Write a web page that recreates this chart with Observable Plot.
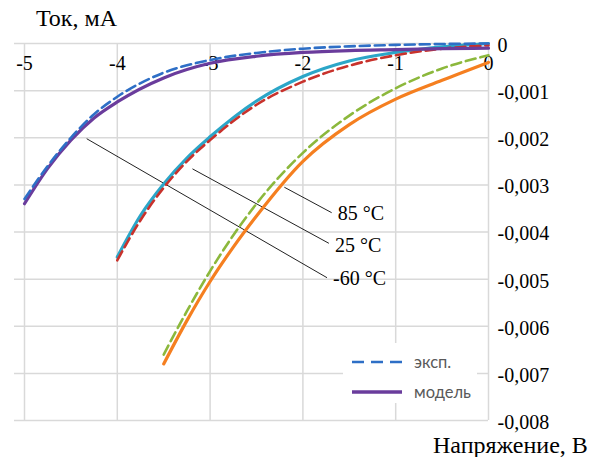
<!DOCTYPE html>
<html>
<head>
<meta charset="utf-8">
<script src="https://cdn.jsdelivr.net/npm/d3@7"></script>
<script src="https://cdn.jsdelivr.net/npm/@observablehq/plot@0.6"></script>
<style>
  html, body { margin: 0; padding: 0; background: #fff; }
  #wrap { position: relative; width: 598px; height: 457px; overflow: hidden; }
  #wrap svg { position: absolute; left: 0; top: 0; }
  .serif { font-family: "Liberation Serif", "Times New Roman", serif; color: #000; line-height: normal; }
  #ytitle { position: absolute; left: 36px; top: 5px; font-size: 24px; white-space: nowrap; }
  #xtitle { position: absolute; left: 433px; top: 432px; font-size: 24px; white-space: nowrap; }
  #legend { position: absolute; left: 343px; top: 343px; width: 134px; height: 60px; background: #fff;
            font-family: Lato, "Open Sans", sans-serif; font-size: 16.5px; color: #595959; }
  #legend .row { position: absolute; left: 8px; height: 20px; display: flex; align-items: center; }
  #legend svg { position: static; margin-right: 11px; }
</style>
</head>
<body>
<div id="wrap">
  <div id="ytitle" class="serif">Ток, мА</div>
  <div id="xtitle" class="serif">Напряжение, В</div>
  <div id="legend"></div>
</div>
<script>
// Axis ticks
const xTicks = [-5, -4, -3, -2, -1, 0];
const xTickLabels = ["-5", "-4", "-3", "-2", "-1", "0"];
const yTicks = [0, -0.001, -0.002, -0.003, -0.004, -0.005, -0.006, -0.007, -0.008];
const yTickLabels = ["0", "-0,001", "-0,002", "-0,003", "-0,004", "-0,005", "-0,006", "-0,007", "-0,008"];

// -60 °C: voltage (V) and current, experiment vs model
const voltsM60 = [-5, -4.75, -4.5, -4.25, -4, -3.5, -3, -2.5, -2, -1.5, -1, -0.5, 0];
const expM60   = [-0.0033, -0.0026, -0.0020, -0.00150, -0.00113, -0.00062, -0.00035, -0.00020, -0.00011, -0.00006, -0.00003, -0.00001, 0];
const modelM60 = [-0.0034, -0.00265, -0.00205, -0.00158, -0.00124, -0.00073, -0.00042, -0.00027, -0.00019, -0.00015, -0.00013, -0.00011, -0.0001];

// 25 °C
const volts25 = [-4, -3.75, -3.5, -3.25, -3, -2.5, -2, -1.5, -1, -0.5, 0];
const exp25   = [-0.0046, -0.00375, -0.00306, -0.0025, -0.00205, -0.0013, -0.00081, -0.00047, -0.00025, -0.00011, -0.00004];
const model25 = [-0.00453, -0.00365, -0.00298, -0.00243, -0.00198, -0.00122, -0.0007, -0.00037, -0.00019, -0.00007, 0];

// 85 °C
const volts85 = [-3.5, -3.25, -3, -2.75, -2.5, -2, -1.5, -1, -0.5, 0];
const exp85   = [-0.0066, -0.00568, -0.00483, -0.00407, -0.0034, -0.00232, -0.00153, -0.00095, -0.00053, -0.00025];
const model85 = [-0.0068, -0.00588, -0.00505, -0.00432, -0.00366, -0.0025, -0.00172, -0.00118, -0.00078, -0.0004];

// Temperature callouts: leader line from a curve to its label (data units)
const calloutLabels = ["85 °C", "25 °C", "-60 °C"];
const calloutFromV = [-2.2, -3.19, -4.33];
const calloutFromI = [-0.00305, -0.00266, -0.00202];
const calloutToV   = [-1.69, -1.72, -1.74];
const calloutToI   = [-0.00359, -0.00424, -0.00497];
const calloutTextI = [-0.00361, -0.00429, -0.00499];

const series = (volts, cur) => volts.map((v, i) => ({v, i: cur[i]}));
const xTickData = xTicks.map((v, k) => ({v, label: xTickLabels[k]}));
const yTickData = yTicks.map((i, k) => ({i, label: yTickLabels[k]}));
const callouts = calloutLabels.map((label, k) => ({
  label, v1: calloutFromV[k], i1: calloutFromI[k], v2: calloutToV[k], i2: calloutToI[k], ti: calloutTextI[k]
}));

const colors = {
  expM60: "#2e6fc6", modelM60: "#6a3c9c",
  exp25: "#c8322c", model25: "#2ba6c8",
  exp85: "#8cb83c", model85: "#f57f20"
};
const serif = "Liberation Serif, Times New Roman, serif";
const dashed = {strokeWidth: 2.6, strokeDasharray: "10,5", curve: "monotone-x"};
const solid = {strokeWidth: 3.2, curve: "monotone-x", strokeLinecap: "round"};

const chart = Plot.plot({
  width: 598,
  height: 457,
  marginLeft: 24,
  marginRight: 110,
  marginTop: 43,
  marginBottom: 37,
  x: {domain: [-5, 0], axis: null},
  y: {domain: [-0.008, 0], axis: null},
  style: {background: "transparent", overflow: "visible"},
  marks: [
    Plot.ruleX(xTickData, {x: "v", stroke: "#d9d9d9", strokeWidth: 1.5}),
    Plot.ruleY(yTickData, {y: "i", stroke: "#d9d9d9", strokeWidth: 1.5, insetLeft: -10}),
    Plot.text(xTickData, {x: "v", y: 0, dy: 20, text: "label", fontFamily: serif, fontSize: 20, fill: "#000"}),
    Plot.text(yTickData, {x: 0, y: "i", dx: 9, dy: 2, text: "label", textAnchor: "start", fontFamily: serif, fontSize: 20, fill: "#000"}),
    Plot.link(callouts, {x1: "v1", y1: "i1", x2: "v2", y2: "i2", stroke: "#222", strokeWidth: 1}),
    Plot.text(callouts, {x: "v2", y: "ti", dx: 6, text: "label", textAnchor: "start", fontFamily: serif, fontSize: 20, fill: "#000"}),
    Plot.line(series(volts85, exp85), {x: "v", y: "i", stroke: colors.exp85, ...dashed}),
    Plot.line(series(volts85, model85), {x: "v", y: "i", stroke: colors.model85, ...solid}),
    Plot.line(series(volts25, model25), {x: "v", y: "i", stroke: colors.model25, ...solid}),
    Plot.line(series(volts25, exp25), {x: "v", y: "i", stroke: colors.exp25, ...dashed}),
    Plot.line(series(voltsM60, modelM60), {x: "v", y: "i", stroke: colors.modelM60, ...solid}),
    Plot.line(series(voltsM60, expM60), {x: "v", y: "i", stroke: colors.expM60, ...dashed})
  ]
});
document.getElementById("wrap").prepend(chart);

// Legend: line style key
const legendItems = [
  {label: "эксп.", color: colors.expM60, dash: "12,7", width: 2.6},
  {label: "модель", color: colors.modelM60, dash: null, width: 3.4}
];
const legend = d3.select("#legend");
legendItems.forEach((d, k) => {
  const row = legend.append("div").attr("class", "row").style("top", (9 + k * 30) + "px");
  const svg = row.append("svg").attr("width", 52).attr("height", 20);
  svg.append("line").attr("x1", 1).attr("x2", 51).attr("y1", 10).attr("y2", 10)
    .attr("stroke", d.color).attr("stroke-width", d.width)
    .attr("stroke-dasharray", d.dash);
  row.append("span").text(d.label);
});
</script>
</body>
</html>
